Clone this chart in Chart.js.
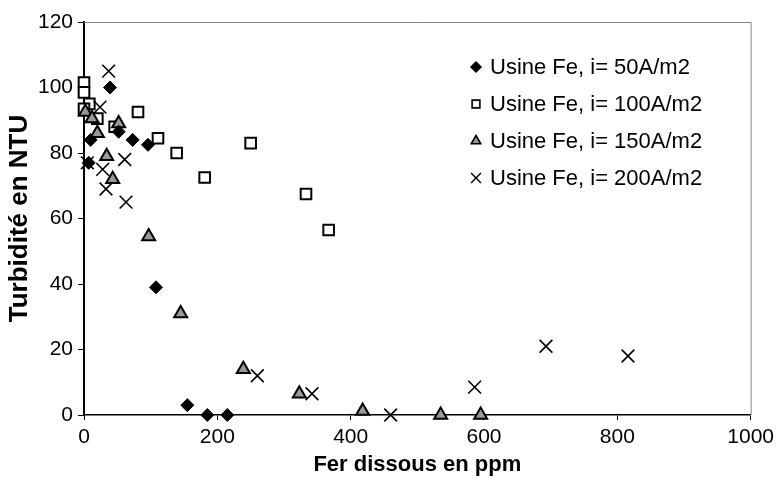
<!DOCTYPE html>
<html><head><meta charset="utf-8">
<script src="https://cdn.jsdelivr.net/npm/chart.js@4/dist/chart.umd.min.js"></script>
<style>html,body{margin:0;padding:0;background:#fff}#wrap{width:779px;height:486px;position:relative}</style>
</head><body><div id="wrap"><canvas id="c" width="779" height="486"></canvas></div>
<script>
const seriesNames = ["Usine Fe, i= 50A/m2","Usine Fe, i= 100A/m2","Usine Fe, i= 150A/m2","Usine Fe, i= 200A/m2"];
const fe50x  = [39,10,7,52,73,96,108,155,185,215];
const fe50y  = [100,84,77,86.5,84,82.5,39,3,0,0];
const fe100x = [0,0,8,0,20,46,81,111,139,181,250,333,367];
const fe100y = [101.5,98.5,95,93.5,90.5,88,92.5,84.5,80,72.5,83,67.5,56.5];
const fe150x = [2,12,20,52,34,43,97,145,239,323,418,535,595];
const fe150y = [92.5,90.5,86,89,79,72,54.5,31,14,6.5,1.2,0,0];
const fe200x = [37,24,5,28,33,61,63,260,342,460,586,693,816];
const fe200y = [105,94,77,75,69,78,65,12,6.5,0,8.5,21,18];
const xTicks = [0,200,400,600,800,1000];
const yTicks = [0,20,40,60,80,100,120];
const xTitle = "Fer dissous en ppm";
const yTitle = "Turbidité en NTU";

const pts = (xs, ys) => xs.map((x, i) => ({x: x, y: ys[i]}));
const styles = [
  {pointStyle:'rectRot', radius:6.5, bg:'#000', border:'#000', bw:1},
  {pointStyle:'rect', radius:7.5, bg:'#fff', border:'#000', bw:2},
  {pointStyle:'triangle', radius:7.5, bg:'#999', border:'#000', bw:2},
  {pointStyle:'crossRot', radius:9, bg:'#000', border:'#000', bw:1.6}
];
const dataSets = [pts(fe50x,fe50y), pts(fe100x,fe100y), pts(fe150x,fe150y), pts(fe200x,fe200y)];
const datasets = dataSets.map((d, i) => ({
  label: seriesNames[i], data: d, showLine:false, clip:false,
  pointStyle: styles[i].pointStyle, pointRadius: styles[i].radius, pointHoverRadius: styles[i].radius,
  pointBackgroundColor: styles[i].bg, pointBorderColor: styles[i].border, pointBorderWidth: styles[i].bw
}));
datasets.forEach((d,i)=>{ d.order = [1,3,2,0][i]; });

const FONT = "'Liberation Sans', Arial, sans-serif";

const framePlugin = {
  id:'frame',
  beforeDatasetsDraw(chart){
    const a = chart.chartArea, ctx = chart.ctx;
    ctx.save();
    ctx.strokeStyle = '#888'; ctx.lineWidth = 1;
    ctx.beginPath();
    ctx.moveTo(a.left, a.top+0.5); ctx.lineTo(a.right+0.5, a.top+0.5); ctx.lineTo(a.right+0.5, a.bottom);
    ctx.stroke();
    ctx.restore();
  }
};
const legendPlugin = {
  id:'customLegend',
  afterDraw(chart){
    const ctx = chart.ctx;
    const rows = [67, 104, 141, 178];
    ctx.save();
    ctx.font = "22px " + FONT;
    ctx.textBaseline = 'middle';
    rows.forEach((y, i) => {
      const st = styles[i];
      ctx.fillStyle = st.bg; ctx.strokeStyle = st.border;
      ctx.lineWidth = i===0 ? 1 : (i===3 ? 1.4 : 1.6);
      Chart.helpers.drawPoint(ctx, {pointStyle: st.pointStyle, radius: i===3 ? 7 : 5.5, rotation:0, borderWidth: ctx.lineWidth}, 476, y);
      ctx.fillStyle = '#000';
      ctx.fillText(seriesNames[i], 490, y+1);
    });
    ctx.restore();
  }
};

new Chart(document.getElementById('c'), {
  type:'scatter',
  data:{datasets},
  options:{
    responsive:false, animation:false, devicePixelRatio:1,
    layout:{padding:{top:22, right:27, left:0, bottom:0}},
    plugins:{legend:{display:false}, tooltip:{enabled:false}},
    scales:{
      x:{
        type:'linear', min:0, max:1000,
        afterBuildTicks(s){ s.ticks = xTicks.map(v=>({value:v})); },
        afterFit(s){ s.height = 71; },
        grid:{drawOnChartArea:false, drawTicks:true, tickLength:5, color:'#000', lineWidth:1},
        border:{color:'#000', width:1.5},
        ticks:{color:'#000', font:{family:FONT, size:21}, padding:5, maxRotation:0, callback:(v)=>String(v)},
        title:{display:true, text:xTitle, color:'#000', font:{family:FONT, size:22, weight:'bold'}, padding:{top:0, bottom:8}}
      },
      y:{
        type:'linear', min:0, max:120,
        afterBuildTicks(s){ s.ticks = yTicks.map(v=>({value:v})); },
        afterFit(s){ s.width = 84; },
        grid:{drawOnChartArea:false, drawTicks:true, tickLength:6, color:'#000', lineWidth:1},
        border:{color:'#000', width:2},
        ticks:{color:'#000', font:{family:FONT, size:21}, padding:5, callback:(v)=>String(v)},
        title:{display:true, text:yTitle, color:'#000', font:{family:FONT, size:26, weight:'bold'}, padding:{top:4, bottom:0}}
      }
    }
  },
  plugins:[framePlugin, legendPlugin]
});
</script></body></html>
